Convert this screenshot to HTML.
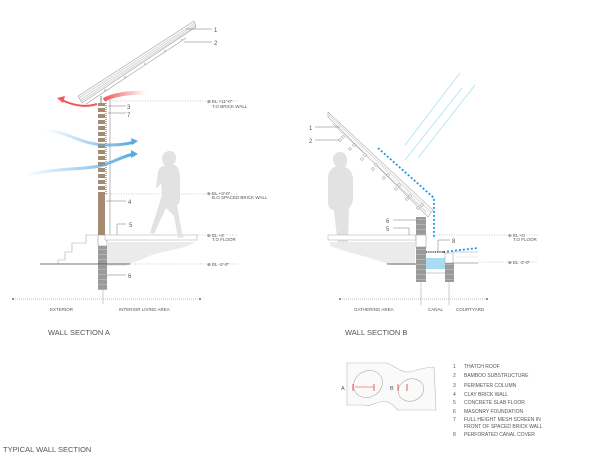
<!DOCTYPE html>
<html><head><meta charset="utf-8"><style>
html,body{margin:0;padding:0;background:#fff}
svg{display:block}
text{font-family:"Liberation Sans",sans-serif;fill:#555}
</style></head><body>
<svg width="600" height="474" viewBox="0 0 600 474" xmlns="http://www.w3.org/2000/svg">
<defs>
<linearGradient id="bl1" x1="0" x2="1"><stop offset="0" stop-color="#5aa9e0" stop-opacity="0"/><stop offset="1" stop-color="#5aa9e0"/></linearGradient>
<linearGradient id="rd1" x1="1" x2="0"><stop offset="0" stop-color="#ee5a5a" stop-opacity="0"/><stop offset="1" stop-color="#ee5a5a"/></linearGradient>
<pattern id="brick" width="7" height="6" patternUnits="userSpaceOnUse"><rect width="7" height="6" fill="#fff"/><rect y="0" width="7" height="4" fill="#a58a72"/></pattern>
<pattern id="mas" width="9" height="5" patternUnits="userSpaceOnUse"><rect width="9" height="5" fill="#9a9a9a"/><line x1="0" y1="4.5" x2="9" y2="4.5" stroke="#c4c4c4" stroke-width="0.6"/></pattern>
</defs>

<!-- ===== SECTION A ===== -->
<polygon points="78,96 194,21 196,27 82,103" fill="#f7f7f7" stroke="#888" stroke-width="0.5"/>
<line x1="79" y1="98" x2="195" y2="23" stroke="#aaa" stroke-width="0.4"/>
<line x1="80" y1="100" x2="195" y2="25" stroke="#aaa" stroke-width="0.4"/>
<line x1="81" y1="101.5" x2="196" y2="26" stroke="#aaa" stroke-width="0.4"/>
<line x1="86" y1="104" x2="186" y2="38" stroke="#999" stroke-width="0.6"/>
<g fill="#fff" stroke="#999" stroke-width="0.4">
<circle cx="105" cy="90" r="0.9"/><circle cx="125" cy="77" r="0.9"/><circle cx="145" cy="64" r="0.9"/><circle cx="165" cy="51" r="0.9"/><circle cx="182" cy="40" r="0.9"/>
</g>
<line x1="186" y1="29" x2="212" y2="29" stroke="#777" stroke-width="0.5"/>
<line x1="184" y1="42" x2="212" y2="42" stroke="#777" stroke-width="0.5"/>
<text x="214" y="32" font-size="6">1</text>
<text x="214" y="45" font-size="6">2</text>
<line x1="101" y1="96" x2="101" y2="103" stroke="#888" stroke-width="1"/>
<line x1="110" y1="100" x2="110" y2="236" stroke="#888" stroke-width="0.6"/>
<rect x="98" y="103" width="7" height="92" fill="url(#brick)"/>
<rect x="98" y="195" width="7" height="40" fill="#a58a72"/>
<line x1="106" y1="103" x2="106" y2="195" stroke="#333" stroke-width="0.8" stroke-dasharray="1,1"/>
<rect x="98" y="235" width="9" height="11" fill="#fff" stroke="#888" stroke-width="0.5"/>
<rect x="98" y="246" width="9" height="44" fill="url(#mas)"/>
<line x1="108" y1="106" x2="126" y2="106" stroke="#777" stroke-width="0.5"/><text x="127" y="109" font-size="6">3</text>
<line x1="108" y1="113" x2="126" y2="113" stroke="#777" stroke-width="0.5"/><text x="127" y="117" font-size="6">7</text>
<line x1="106" y1="201" x2="126" y2="201" stroke="#777" stroke-width="0.5"/><text x="128" y="204" font-size="6">4</text>
<polyline points="117,235 117,224 126,224" fill="none" stroke="#777" stroke-width="0.5"/><text x="129" y="227" font-size="6">5</text>
<line x1="106" y1="275" x2="126" y2="275" stroke="#777" stroke-width="0.5"/><text x="128" y="278" font-size="6">6</text>
<rect x="105" y="235" width="92" height="5" fill="#fff" stroke="#aaa" stroke-width="0.5"/>
<polyline points="98,235 86,235 86,243 72,243 72,252 65,252 65,260 58,260 58,264" fill="none" stroke="#aaa" stroke-width="0.6"/>
<path d="M107,242 L195,242 C185,250 160,250 145,258 C135,262 128,264 125,266 L107,266 Z" fill="#ebebeb"/>
<line x1="40" y1="264" x2="130" y2="264" stroke="#444" stroke-width="0.8"/>
<g stroke="#999" stroke-width="0.6" stroke-dasharray="1,1.5" fill="none">
<line x1="110" y1="101" x2="238" y2="101"/>
<line x1="106" y1="194" x2="238" y2="194"/>
<line x1="197" y1="235" x2="238" y2="235"/>
<line x1="130" y1="264" x2="238" y2="264"/>
</g>
<g font-size="4.5">
<text x="207" y="103">⊕ EL  +11'-0"</text><text x="212" y="108">T.O BRICK WALL</text>
<text x="207" y="195">⊕ EL  +3'-0"</text><text x="212" y="199">B.O SPACED BRICK WALL</text>
<text x="207" y="237">⊕ EL  +0</text><text x="212" y="241">T.O FLOOR</text>
<text x="207" y="266">⊕ EL  -2'-0"</text>
</g>
<path d="M170,151 c4,0 6,3 6,7 c0,3 -1,5 -3,6 c5,2 7,6 7,14 l0,20 c0,4 -1,6 -3,7 l5,28 l2,4 l-6,1 l-4,-22 l-8,-8 l-12,26 l-4,-1 l12,-38 l-1,-12 c-3,4 -4,6 -5,4 l2,-15 c1,-4 3,-6 7,-6 c-2,-2 -3,-5 -3,-8 c0,-4 3,-7 8,-7 Z" fill="#e2e2e2"/>
<path d="M146,93 C130,92 112,95 104,100" fill="none" stroke="url(#rd1)" stroke-width="4"/>
<path d="M97,104 C85,108 72,105 62,100" fill="none" stroke="#ee5a5a" stroke-width="2"/>
<polygon points="57,98 65,96 63,103" fill="#ee5a5a"/>
<path d="M45,130 C70,132 80,145 108,145 C120,145 128,144 134,142" fill="none" stroke="url(#bl1)" stroke-width="3"/>
<polygon points="138,141 131,138 132,145" fill="#5aa9e0"/>
<path d="M25,176 C50,168 80,170 100,166 C115,162 122,156 134,154" fill="none" stroke="url(#bl1)" stroke-width="3"/>
<polygon points="138,154 131,150 131,158" fill="#5aa9e0"/>
<line x1="13" y1="299" x2="200" y2="299" stroke="#888" stroke-width="0.6" stroke-dasharray="1,1"/>
<circle cx="13" cy="299" r="0.9" fill="#444"/><circle cx="200" cy="299" r="0.9" fill="#444"/>
<line x1="103" y1="290" x2="103" y2="304" stroke="#999" stroke-width="0.5"/>
<text x="50" y="311" font-size="4.5">EXTERIOR</text>
<text x="119" y="311" font-size="4.5">INTERIOR LIVING AREA</text>
<text x="48" y="335" font-size="7.5" fill="#444">WALL SECTION A</text>

<!-- ===== SECTION B ===== -->
<g stroke="#a6e4ef" stroke-width="0.8">
<line x1="460" y1="73" x2="405" y2="145"/>
<line x1="462" y1="88" x2="405" y2="160"/>
<line x1="475" y1="85" x2="418" y2="158"/>
</g>
<polygon points="328,112 433,210 428,217 328,117" fill="#f7f7f7" stroke="#888" stroke-width="0.5"/>
<line x1="329" y1="115" x2="431" y2="212" stroke="#aaa" stroke-width="0.4"/>
<line x1="333" y1="124" x2="426" y2="212" stroke="#999" stroke-width="0.5"/>
<g fill="#fff" stroke="#888" stroke-width="0.5">
<circle cx="340" cy="140" r="1.3"/><circle cx="343" cy="137" r="1.3"/><circle cx="350" cy="149" r="1.3"/><circle cx="354" cy="145" r="1.3"/>
<circle cx="362" cy="159" r="1.3"/><circle cx="365" cy="155" r="1.3"/><circle cx="373" cy="169" r="1.3"/><circle cx="376" cy="165" r="1.3"/>
<circle cx="384" cy="178" r="1.3"/><circle cx="388" cy="175" r="1.3"/><circle cx="396" cy="189" r="1.3"/><circle cx="399" cy="185" r="1.3"/>
<circle cx="407" cy="199" r="1.3"/><circle cx="410" cy="196" r="1.3"/><circle cx="418" cy="208" r="1.3"/><circle cx="422" cy="205" r="1.3"/>
</g>
<line x1="315" y1="127" x2="340" y2="127" stroke="#777" stroke-width="0.5"/><text x="309" y="130" font-size="6">1</text>
<line x1="315" y1="140" x2="339" y2="140" stroke="#777" stroke-width="0.5"/><text x="309" y="143" font-size="6">2</text>
<polyline points="378,148 434,198 434,238" fill="none" stroke="#1e9be0" stroke-width="1.8" stroke-dasharray="2,2"/>
<polyline points="443,252 478,248" fill="none" stroke="#1e9be0" stroke-width="1.8" stroke-dasharray="2,2"/>
<path d="M340,152 c5,0 7,4 7,9 c0,3 -1,5 -2,6 c5,2 8,6 8,13 l0,18 c0,5 -2,8 -4,10 l-1,37 l-10,0 l-3,-25 l-1,-10 c-4,0 -6,-3 -6,-8 l0,-24 c0,-6 3,-10 8,-12 c-2,-2 -3,-4 -3,-7 c0,-4 3,-7 7,-7 Z" fill="#e2e2e2"/>
<rect x="328" y="235" width="88" height="5" fill="#fff" stroke="#aaa" stroke-width="0.5"/>
<path d="M330,242 L415,242 L415,265 L390,265 C375,258 355,255 330,246 Z" fill="#ebebeb"/>
<line x1="387" y1="264" x2="416" y2="264" stroke="#444" stroke-width="0.8"/>
<rect x="416" y="217" width="10" height="18" fill="url(#mas)"/>
<rect x="416" y="235" width="10" height="12" fill="#fff" stroke="#888" stroke-width="0.5"/>
<rect x="416" y="247" width="10" height="35" fill="url(#mas)"/>
<rect x="445" y="263" width="9" height="19" fill="url(#mas)"/>
<rect x="426" y="258" width="19" height="11" fill="#a9dcf2"/>
<line x1="426" y1="252" x2="445" y2="252" stroke="#222" stroke-width="1.2" stroke-dasharray="1,0.8"/>
<line x1="426" y1="273" x2="445" y2="273" stroke="#999" stroke-width="0.5"/>
<rect x="445" y="253" width="8" height="10" fill="#fff" stroke="#999" stroke-width="0.5"/>
<line x1="453" y1="252" x2="478" y2="252" stroke="#999" stroke-width="0.5"/>
<line x1="453" y1="263" x2="478" y2="263" stroke="#666" stroke-width="0.6"/>
<line x1="456" y1="257" x2="478" y2="257" stroke="#ddd" stroke-width="0.5"/>
<line x1="393" y1="220" x2="418" y2="220" stroke="#777" stroke-width="0.5"/><text x="386" y="223" font-size="6">6</text>
<polyline points="393,228 409,228 409,235" fill="none" stroke="#777" stroke-width="0.5"/><text x="386" y="231" font-size="6">5</text>
<polyline points="438,252 438,240 450,240" fill="none" stroke="#777" stroke-width="0.5"/><text x="452" y="243" font-size="6">8</text>
<g stroke="#999" stroke-width="0.6" stroke-dasharray="1,1.5">
<line x1="434" y1="235" x2="538" y2="235"/>
<line x1="478" y1="262" x2="538" y2="262"/>
</g>
<g font-size="4.5">
<text x="508" y="237">⊕ EL  +0</text><text x="513" y="241">T.O FLOOR</text>
<text x="508" y="264">⊕ EL  -2'-0"</text>
</g>
<line x1="340" y1="299" x2="487" y2="299" stroke="#888" stroke-width="0.6" stroke-dasharray="1,1"/>
<circle cx="340" cy="299" r="0.9" fill="#444"/><circle cx="487" cy="299" r="0.9" fill="#444"/>
<line x1="421" y1="282" x2="421" y2="305" stroke="#999" stroke-width="0.5"/>
<line x1="449" y1="282" x2="449" y2="305" stroke="#999" stroke-width="0.5"/>
<text x="354" y="311" font-size="4.5">GATHERING AREA</text>
<text x="428" y="311" font-size="4.5">CANAL</text>
<text x="456" y="311" font-size="4.5">COURTYARD</text>
<text x="345" y="335" font-size="7.5" fill="#444">WALL SECTION B</text>

<!-- plan -->
<path d="M347,363 L387,363 C395,366 400,372 408,372 C414,372 418,368 434,367 L436,410 L398,410 C392,404 388,400 380,402 C372,404 368,407 365,405 L347,405 Z" fill="#fafafa" stroke="#bbb" stroke-width="0.6"/>
<ellipse cx="368" cy="384" rx="15" ry="13" fill="none" stroke="#aaa" stroke-width="0.6" transform="rotate(-30 368 384)"/>
<ellipse cx="411" cy="390" rx="13" ry="11" fill="none" stroke="#aaa" stroke-width="0.6" transform="rotate(-20 411 390)"/>
<line x1="355" y1="387" x2="374" y2="387" stroke="#e33" stroke-width="0.5"/>
<line x1="353" y1="384" x2="353" y2="391" stroke="#e33" stroke-width="0.8"/>
<line x1="374" y1="384" x2="374" y2="391" stroke="#e33" stroke-width="0.8"/>
<line x1="398" y1="384" x2="398" y2="391" stroke="#e33" stroke-width="0.8"/>
<line x1="407" y1="384" x2="407" y2="391" stroke="#e33" stroke-width="0.8"/>
<text x="341" y="390" font-size="5.5">A</text>
<text x="390" y="390" font-size="5.5">B</text>
<g font-size="5">
<text x="453" y="368">1</text><text x="464" y="368">THATCH ROOF</text>
<text x="453" y="377">2</text><text x="464" y="377">BAMBOO SUBSTRUCTURE</text>
<text x="453" y="387">3</text><text x="464" y="387">PERIMETER COLUMN</text>
<text x="453" y="396">4</text><text x="464" y="396">CLAY BRICK WALL</text>
<text x="453" y="404">5</text><text x="464" y="404">CONCRETE SLAB FLOOR</text>
<text x="453" y="413">6</text><text x="464" y="413">MASONRY FOUNDATION</text>
<text x="453" y="421">7</text><text x="464" y="421">FULL HEIGHT MESH SCREEN IN</text>
<text x="464" y="428">FRONT OF SPACED BRICK WALL</text>
<text x="453" y="436">8</text><text x="464" y="436">PERFORATED CANAL COVER</text>
</g>
<text x="3" y="452" font-size="7.5" fill="#666">TYPICAL WALL SECTION</text>
</svg>
</body></html>
